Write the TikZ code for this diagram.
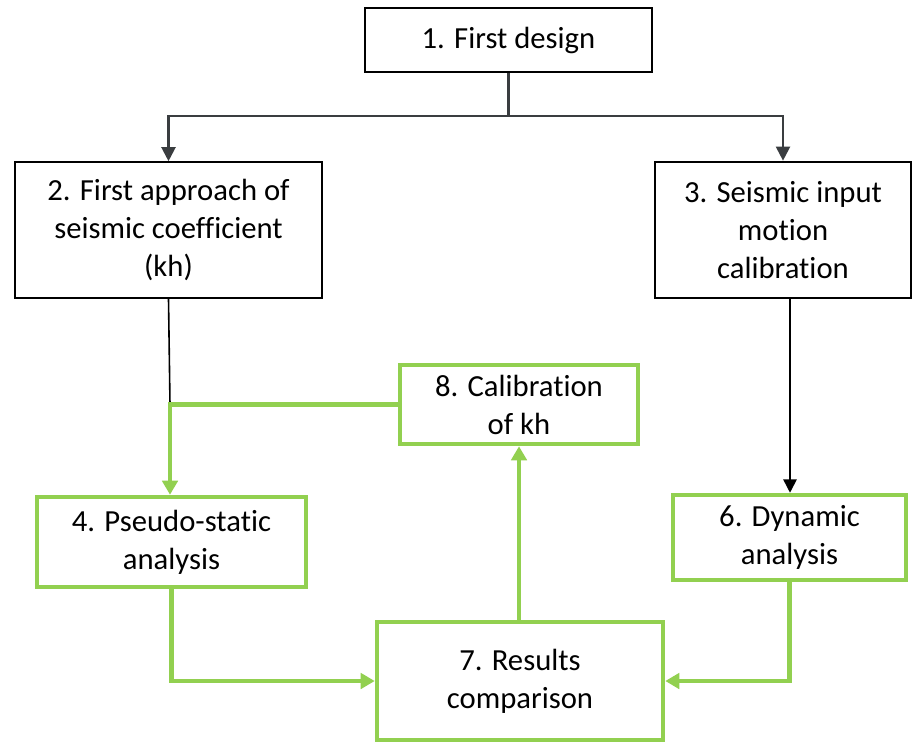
\documentclass[tikz,border=0pt]{standalone}
\usepackage{fontspec}
\setmainfont{Carlito}[Ligatures=NoCommon]
\usetikzlibrary{arrows.meta}
\definecolor{leaf}{HTML}{92D050}
\definecolor{ink}{HTML}{3A3D40}
\tikzset{
  box/.style={draw=black, line width=1.6pt, fill=white, align=center,
    inner sep=0pt, font=\fontsize{23}{28.5}\selectfont},
  greenbox/.style={box, draw=leaf, line width=3.4pt},
  link/.style={draw=ink, line width=1.6pt, -{Triangle[width=10.5pt,length=10.5pt]}},
  blacklink/.style={draw=black, line width=1.2pt, -{Triangle[width=10pt,length=10pt]}},
  greenlink/.style={draw=leaf, line width=3.2pt, -{Triangle[width=11.5pt,length=10.5pt]}},
}
\begin{document}
\begin{tikzpicture}[x=0.75pt,y=-0.75pt]
\useasboundingbox (0,0) rectangle (913,742);

% boxes (centres and sizes in pixels, 0.75pt each)
\node[box, minimum width=215.25pt, minimum height=48pt] (n1) at (508.5,40) {1. First design};
\node[box, line width=1.2pt, minimum width=230.25pt, minimum height=102pt] (n2) at (168.5,230)
  {2. First approach of\\seismic coefficient\\(kh)};
\node[box, line width=2pt, minimum width=192pt, minimum height=102pt] (n3) at (783,230)
  {3. Seismic input\\motion\\calibration};
\node[greenbox, minimum width=178.5pt, minimum height=59.25pt] (n8) at (519,404.5)
  {8. Calibration\\of kh};
\node[greenbox, minimum width=201.75pt, minimum height=67.5pt] (n4) at (171.5,542)
  {4. Pseudo-static\\analysis};
\node[greenbox, minimum width=174.75pt, minimum height=63.75pt] (n6) at (789.5,537.5)
  {6. Dynamic\\analysis};
\node[greenbox, minimum width=214.5pt, minimum height=88.5pt] (n7) at (520,681)
  {7. Results\\comparison};

% junction points
\coordinate (split) at (508.5,116);
\coordinate (meet) at (170,404.5);

% first design splits into the two branches
\draw[ink, line width=1.6pt] (n1.south) -- (split);
\draw[link] (split) -| (n2.north);
\draw[link] (split) -| (n3.north);

% seismic input feeds the dynamic analysis
\draw[blacklink] (n3.south -| 790,0) -- (n6.north -| 790,0);

% kh estimate and its calibration feed the pseudo-static analysis
\draw[black, line width=1.2pt] (n2.south) -- (meet);
\draw[greenlink] (n8.west) -- (meet) -- (n4.north -| meet);

% both analyses are compared
\draw[greenlink] (n4.south) |- (n7.west);
\draw[greenlink] (n6.south) |- (n7.east);

% comparison drives the calibration
\draw[greenlink] (n7.north -| n8.south) -- (n8.south);
\end{tikzpicture}
\end{document}
